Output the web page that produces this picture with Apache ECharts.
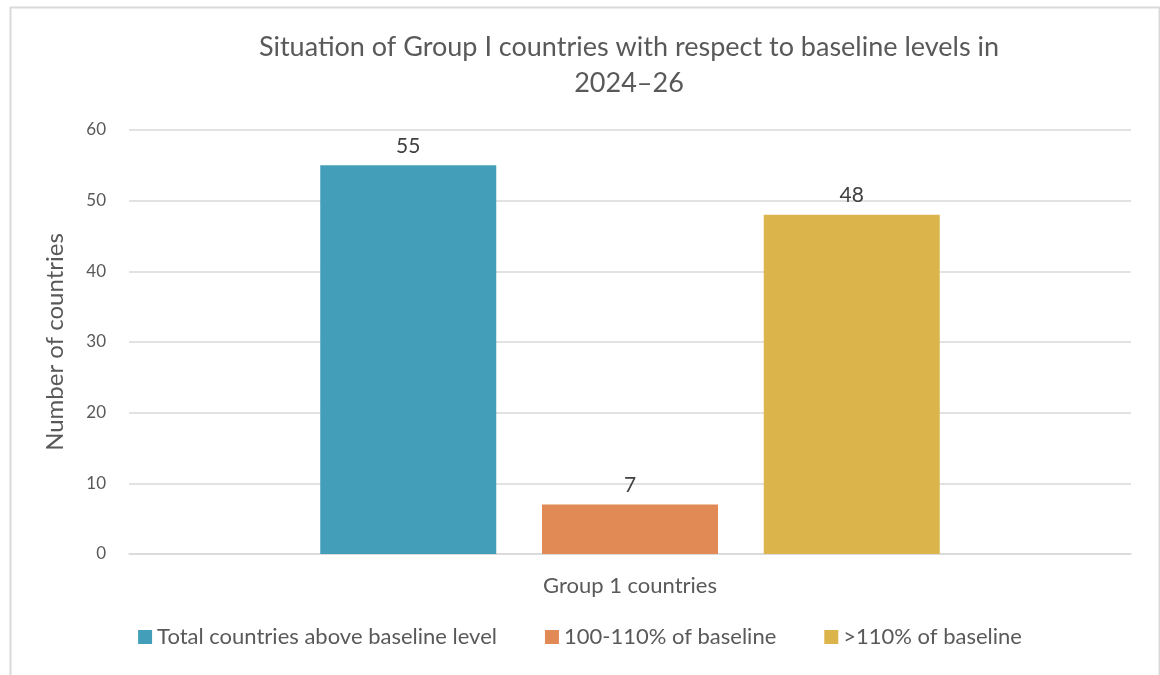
<!DOCTYPE html>
<html>
<head>
<meta charset="utf-8">
<script src="https://cdn.jsdelivr.net/npm/echarts@6/dist/echarts.min.js"></script>
<style>
  html, body { margin: 0; padding: 0; background: #fff; }
  #chart { width: 1160px; height: 675px; }
</style>
</head>
<body>
<div id="chart"></div>
<script>
// Chart data
const categories = ['Group 1 countries'];
const seriesNames = ['Total countries above baseline level', '100-110% of baseline', '>110% of baseline'];
const seriesValues = [[55], [7], [48]];
const seriesColors = ['#439FB9', '#E28A55', '#DCB44C'];
const yTicks = { min: 0, max: 60, interval: 10 };

const FONT = 'Lato';
const TEXT = '#595959';

const chart = echarts.init(document.getElementById('chart'), null, { renderer: 'canvas' });

const series = seriesNames.map((name, i) => ({
  name: name,
  type: 'bar',
  data: seriesValues[i],
  barWidth: 176,
  barGap: '26%',
  itemStyle: { color: seriesColors[i] },
  label: {
    show: true,
    position: 'top',
    distance: 9,
    color: '#404040',
    fontFamily: FONT,
    fontSize: 21
  }
}));

chart.setOption({
  animation: false,
  backgroundColor: '#fff',
  title: {
    text: 'Situation of Group I countries with respect to baseline levels in\n2024–26',
    left: 624,
    top: 24,
    textAlign: 'center',
    textStyle: {
      color: TEXT,
      fontFamily: FONT,
      fontWeight: 'normal',
      fontSize: 27,
      lineHeight: 36
    }
  },
  legend: {
    bottom: 22,
    left: 'center',
    itemWidth: 14,
    itemHeight: 14,
    itemGap: 48,
    icon: 'rect',
    textStyle: { color: TEXT, fontFamily: FONT, fontSize: 22 },
    data: seriesNames
  },
  grid: { left: 129, right: 29, top: 130, bottom: 121 },
  xAxis: {
    type: 'category',
    data: categories,
    axisLine: { show: true, lineStyle: { color: '#d9d9d9', width: 1.5 } },
    axisTick: { show: false },
    axisLabel: { color: TEXT, fontFamily: FONT, fontSize: 22, margin: 21 }
  },
  yAxis: {
    type: 'value',
    min: yTicks.min,
    max: yTicks.max,
    interval: yTicks.interval,
    name: 'Number of countries',
    nameLocation: 'middle',
    nameGap: 62,
    nameTextStyle: { color: TEXT, fontFamily: FONT, fontSize: 24 },
    axisLine: { show: false },
    axisTick: { show: false },
    axisLabel: { color: TEXT, fontFamily: FONT, fontSize: 17, margin: 23 },
    splitLine: { lineStyle: { color: '#d9d9d9', width: 1.5 } }
  },
  graphic: [{
    type: 'rect',
    left: 8,
    top: 5,
    shape: { width: 1149, height: 680 },
    style: { fill: 'none', stroke: '#d9d9d9', lineWidth: 2 },
    silent: true,
    z: -1
  }],
  series: series
});
</script>
</body>
</html>
